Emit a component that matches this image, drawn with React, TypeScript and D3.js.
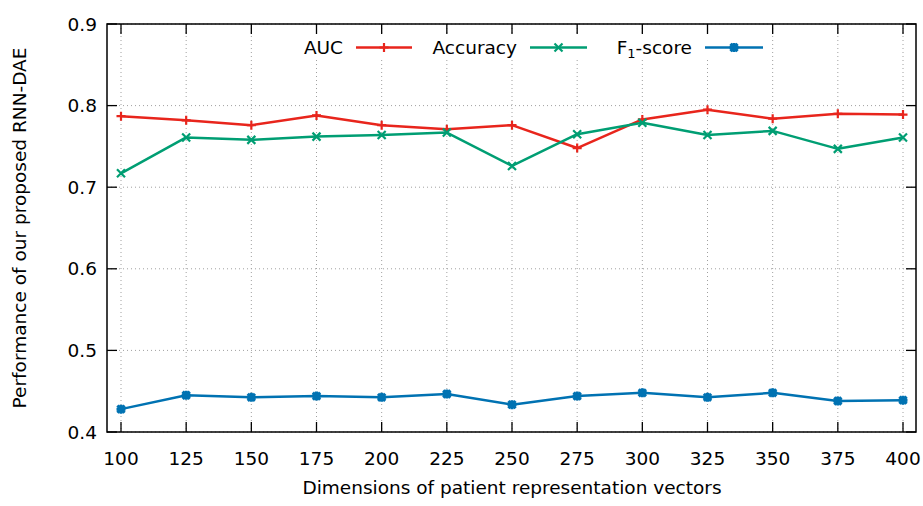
import * as d3 from 'd3'
import React, { useEffect, useRef } from 'react'

const dims = [100, 125, 150, 175, 200, 225, 250, 275, 300, 325, 350, 375, 400]
const aucValues = [0.787, 0.782, 0.776, 0.788, 0.776, 0.771, 0.776, 0.748, 0.783, 0.795, 0.784, 0.79, 0.789]
const accuracyValues = [0.717, 0.761, 0.758, 0.762, 0.764, 0.767, 0.726, 0.765, 0.779, 0.764, 0.769, 0.747, 0.761]
const f1Values = [0.428, 0.445, 0.4425, 0.444, 0.4425, 0.4466, 0.4335, 0.444, 0.448, 0.4425, 0.448, 0.438, 0.439]
const yTicks = [0.4, 0.5, 0.6, 0.7, 0.8, 0.9]

const series = [
  { name: 'AUC', values: aucValues, color: '#e8251c', marker: 'plus', keyRight: 343, keyLine: [356, 412] },
  { name: 'Accuracy', values: accuracyValues, color: '#009e73', marker: 'cross', keyRight: 517, keyLine: [530, 587] },
  { name: 'F1-score', values: f1Values, color: '#0072b2', marker: 'star', keyRight: 692, keyLine: [705, 763] },
]

const W = 923
const H = 506
const FONT = '"DejaVu Sans", sans-serif'
const FS = 18.5

const markerPath = (type: string, x: number, y: number) => {
  const p = d3.path()
  const s = 4.5
  if (type === 'plus' || type === 'star') {
    p.moveTo(x - s, y); p.lineTo(x + s, y)
    p.moveTo(x, y - s); p.lineTo(x, y + s)
  }
  if (type === 'cross' || type === 'star') {
    const c = type === 'star' ? 3.6 : 4
    p.moveTo(x - c, y - c); p.lineTo(x + c, y + c)
    p.moveTo(x - c, y + c); p.lineTo(x + c, y - c)
  }
  return p.toString()
}

export default function App() {
  const svgRef = useRef<SVGSVGElement | null>(null)

  useEffect(() => {
    const svg = d3.select(svgRef.current)
    svg.selectAll('*').remove()

    const left = 107
    const right = 916
    const top = 24
    const bottom = 432

    const x = d3.scaleLinear().domain([100, 400]).range([121, 903])
    const y = d3.scaleLinear().domain([0.4, 0.9]).range([bottom, top])

    // grid
    const grid = svg.append('g').attr('stroke', '#a0a0a0').attr('stroke-width', 1).attr('stroke-dasharray', '1,3')
    dims.forEach((d) => {
      grid.append('line').attr('x1', x(d)).attr('x2', x(d)).attr('y1', top).attr('y2', bottom)
    })
    yTicks.forEach((t) => {
      grid.append('line').attr('x1', left).attr('x2', right).attr('y1', y(t)).attr('y2', y(t))
    })

    // key background
    svg.append('rect').attr('x', 296).attr('y', 36).attr('width', 476).attr('height', 22).attr('fill', '#fff')

    // ticks on all sides
    const ticks = svg.append('g').attr('stroke', '#000').attr('stroke-width', 1.3)
    dims.forEach((d) => {
      ticks.append('line').attr('x1', x(d)).attr('x2', x(d)).attr('y1', bottom).attr('y2', bottom - 10)
      ticks.append('line').attr('x1', x(d)).attr('x2', x(d)).attr('y1', top).attr('y2', top + 10)
    })
    yTicks.forEach((t) => {
      ticks.append('line').attr('x1', left).attr('x2', left + 10).attr('y1', y(t)).attr('y2', y(t))
      ticks.append('line').attr('x1', right).attr('x2', right - 10).attr('y1', y(t)).attr('y2', y(t))
    })

    // tick labels
    svg.append('g')
      .selectAll('text')
      .data(dims)
      .enter()
      .append('text')
      .attr('x', (d) => x(d))
      .attr('y', 465)
      .attr('text-anchor', 'middle')
      .attr('font-family', FONT)
      .attr('font-size', FS)
      .text((d) => d)

    svg.append('g')
      .selectAll('text')
      .data(yTicks)
      .enter()
      .append('text')
      .attr('x', 97)
      .attr('y', (t) => y(t) + 6.5)
      .attr('text-anchor', 'end')
      .attr('font-family', FONT)
      .attr('font-size', FS)
      .text((t) => d3.format('.1f')(t))

    // axis titles
    svg.append('text')
      .attr('x', 512)
      .attr('y', 494)
      .attr('text-anchor', 'middle')
      .attr('font-family', FONT)
      .attr('font-size', FS)
      .text('Dimensions of patient representation vectors')

    svg.append('text')
      .attr('transform', `translate(26,${(top + bottom) / 2}) rotate(-90)`)
      .attr('text-anchor', 'middle')
      .attr('font-family', FONT)
      .attr('font-size', FS)
      .text('Performance of our proposed RNN-DAE')

    // series
    const line = d3.line<number>().x((_, i) => x(dims[i])).y((v) => y(v))
    series.forEach((s) => {
      const g = svg.append('g')
      g.append('path')
        .attr('d', line(s.values))
        .attr('fill', 'none')
        .attr('stroke', s.color)
        .attr('stroke-width', 2.5)
        .attr('stroke-linejoin', 'round')
      g.selectAll('path.m')
        .data(s.values)
        .enter()
        .append('path')
        .attr('class', 'm')
        .attr('d', (v, i) => markerPath(s.marker, x(dims[i]), y(v)))
        .attr('fill', 'none')
        .attr('stroke', s.color)
        .attr('stroke-width', s.marker === 'star' ? 3 : 2.2)

      // key entry
      const ky = 47.5
      const label = g.append('text')
        .attr('x', s.keyRight)
        .attr('y', ky + 6.5)
        .attr('text-anchor', 'end')
        .attr('font-family', FONT)
        .attr('font-size', FS)
      if (s.name === 'F1-score') {
        label.append('tspan').text('F')
        label.append('tspan').attr('font-size', 13).attr('dy', 4).text('1')
        label.append('tspan').attr('dy', -4).text('-score')
      } else {
        label.text(s.name)
      }
      g.append('line')
        .attr('x1', s.keyLine[0])
        .attr('x2', s.keyLine[1])
        .attr('y1', ky)
        .attr('y2', ky)
        .attr('stroke', s.color)
        .attr('stroke-width', 2.5)
      g.append('path')
        .attr('d', markerPath(s.marker, (s.keyLine[0] + s.keyLine[1]) / 2, ky))
        .attr('fill', 'none')
        .attr('stroke', s.color)
        .attr('stroke-width', s.marker === 'star' ? 3 : 2.2)
    })

    // frame
    svg.append('rect')
      .attr('x', left)
      .attr('y', top)
      .attr('width', right - left)
      .attr('height', bottom - top)
      .attr('fill', 'none')
      .attr('stroke', '#000')
      .attr('stroke-width', 1.5)
  }, [])

  return (
    <svg
      ref={svgRef}
      width={W}
      height={H}
      style={{ position: 'absolute', left: 0, top: 0, background: '#fff' }}
    ></svg>
  )
}
